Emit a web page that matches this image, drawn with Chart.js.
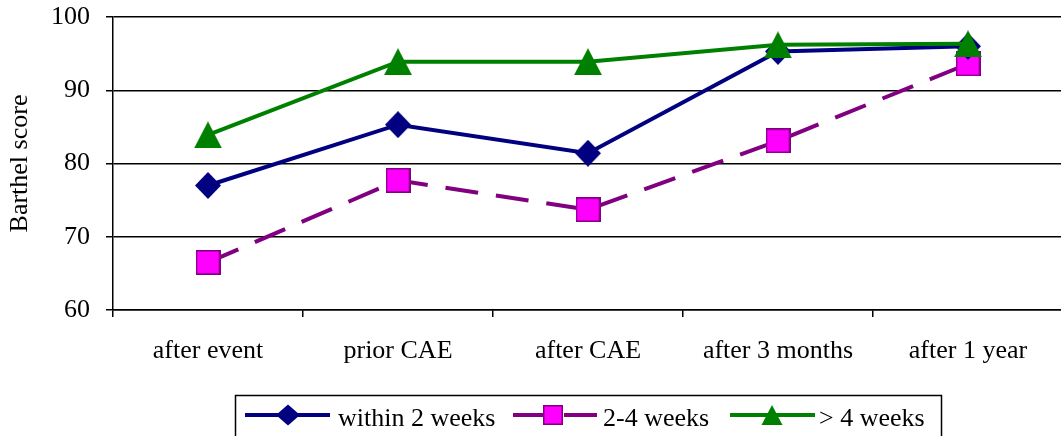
<!DOCTYPE html>
<html><head><meta charset="utf-8">
<script src="https://cdn.jsdelivr.net/npm/chart.js@4.4.0/dist/chart.umd.min.js"></script>
<style>
html,body{margin:0;padding:0;background:#fff;overflow:hidden;}
#wrap{position:relative;width:1080px;height:436px;}
</style></head><body>
<div id="wrap"><canvas id="c" width="1080" height="436"></canvas></div>
<script>
const categories = ['after event', 'prior CAE', 'after CAE', 'after 3 months', 'after 1 year'];
const seriesNames = ['within 2 weeks', '2-4 weeks', '> 4 weeks'];
const within2Weeks = [77.0, 85.3, 81.4, 95.3, 96.0];
const weeks2to4 = [66.5, 77.7, 73.7, 83.1, 93.6];
const over4Weeks = [83.9, 93.9, 93.9, 96.2, 96.35];
const yTicks = [60, 70, 80, 90, 100];
const yTitle = 'Barthel score';

const NAVY = '#000080', PURPLE = '#800080', MAGENTA = '#FF00FF', GREEN = '#008000';
const FONT = 'Liberation Serif, Times New Roman, serif';
const FS = 26;

function triImg(w, h, color) {
  const c = document.createElement('canvas');
  c.width = w; c.height = h;
  const x = c.getContext('2d');
  x.fillStyle = color;
  x.beginPath(); x.moveTo(w / 2, 0); x.lineTo(w, h); x.lineTo(0, h); x.closePath(); x.fill();
  return c;
}
function diamondImg(w, h, color) {
  const c = document.createElement('canvas');
  c.width = w; c.height = h;
  const x = c.getContext('2d');
  x.fillStyle = color;
  x.beginPath(); x.moveTo(w / 2, 0); x.lineTo(w, h / 2); x.lineTo(w / 2, h); x.lineTo(0, h / 2); x.closePath(); x.fill();
  return c;
}
function squareImg(s, fill, stroke) {
  const c = document.createElement('canvas');
  c.width = s; c.height = s;
  const x = c.getContext('2d');
  x.fillStyle = fill; x.strokeStyle = stroke; x.lineWidth = 1.6;
  x.fillRect(0.8, 0.8, s - 1.6, s - 1.6);
  x.strokeRect(0.8, 0.8, s - 1.6, s - 1.6);
  return c;
}

const legendLayout = [
  {x1: 245, x2: 330, mx: 288, tx: 338},
  {x1: 513, x2: 597, mx: 553, tx: 603},
  {x1: 730, x2: 815, mx: 772, tx: 819}
];

const legendPlugin = {
  id: 'boxLegend',
  afterDraw(chart) {
    const ctx = chart.ctx;
    ctx.save();
    ctx.strokeStyle = '#000';
    ctx.lineWidth = 1.5;
    ctx.strokeRect(235.5, 395.5, 706, 60);
    const ly = 415;
    chart.data.datasets.forEach((ds, i) => {
      const L = legendLayout[i];
      ctx.save();
      ctx.strokeStyle = ds.borderColor;
      ctx.lineWidth = ds.borderWidth;
      ctx.setLineDash(ds.borderDash || []);
      ctx.beginPath(); ctx.moveTo(L.x1, ly); ctx.lineTo(L.x2, ly); ctx.stroke();
      ctx.restore();
      ctx.save();
      ctx.fillStyle = ds.markerFill;
      ctx.strokeStyle = ds.borderColor;
      ctx.lineWidth = 1.5;
      ctx.beginPath();
      if (ds.legendMarker === 'diamond') {
        const rx = 12, ry = 10.5;
        ctx.moveTo(L.mx - rx, ly); ctx.lineTo(L.mx, ly - ry); ctx.lineTo(L.mx + rx, ly); ctx.lineTo(L.mx, ly + ry); ctx.closePath();
        ctx.fill();
      } else if (ds.legendMarker === 'square') {
        const s = 18.5;
        ctx.rect(L.mx - s / 2, ly - s / 2, s, s);
        ctx.fill(); ctx.stroke();
      } else {
        const w = 21, h = 20;
        ctx.moveTo(L.mx, ly - h / 2); ctx.lineTo(L.mx + w / 2, ly + h / 2); ctx.lineTo(L.mx - w / 2, ly + h / 2); ctx.closePath();
        ctx.fill();
      }
      ctx.restore();
      ctx.fillStyle = '#000';
      ctx.font = FS + 'px ' + FONT;
      ctx.textAlign = 'left';
      ctx.textBaseline = 'alphabetic';
      ctx.fillText(ds.label, L.tx, 426);
    });
    ctx.restore();
  }
};

Chart.defaults.font.family = FONT;
Chart.defaults.font.size = FS;
Chart.defaults.color = '#000';

new Chart(document.getElementById('c'), {
  type: 'line',
  data: {
    labels: categories,
    datasets: [
      {
        label: seriesNames[0], data: within2Weeks, order: 1,
        borderColor: NAVY, borderWidth: 4, tension: 0,
        pointStyle: diamondImg(26, 27, NAVY), pointRadius: 13,
        markerFill: NAVY, legendMarker: 'diamond'
      },
      {
        label: seriesNames[1], data: weeks2to4, order: 2,
        borderColor: PURPLE, borderWidth: 4, borderDash: [33, 18], tension: 0,
        pointStyle: squareImg(25, MAGENTA, PURPLE), pointRadius: 13,
        markerFill: MAGENTA, legendMarker: 'square'
      },
      {
        label: seriesNames[2], data: over4Weeks, order: 0,
        borderColor: GREEN, borderWidth: 4, tension: 0,
        pointStyle: triImg(28, 27, GREEN), pointRadius: 13,
        markerFill: GREEN, legendMarker: 'triangle'
      }
    ]
  },
  options: {
    responsive: false,
    animation: false,
    events: [],
    layout: {padding: {top: 17, left: 0, right: 11, bottom: 0}},
    plugins: {legend: {display: false}, tooltip: {enabled: false}},
    scales: {
      x: {
        offset: true,
        grid: {offset: true, drawOnChartArea: false, drawTicks: true, tickLength: 7, color: '#000', lineWidth: 1.5},
        border: {display: true, color: '#000', width: 1.5},
        ticks: {padding: 19, font: {size: FS}, maxRotation: 0, autoSkip: false},
        afterFit(s) { s.height = 126; s.paddingLeft = 0; s.paddingRight = 0; }
      },
      y: {
        min: 60, max: 100,
        afterBuildTicks(s) { s.ticks = yTicks.map(v => ({value: v})); },
        grid: {drawTicks: true, tickLength: 7, color: '#000', lineWidth: 1.5},
        border: {display: true, color: '#000', width: 1.5},
        ticks: {padding: 16, font: {size: FS}},
        title: {display: true, text: yTitle, font: {size: FS}, padding: {top: 5, bottom: 0}},
        afterFit(s) { s.width = 113; s.paddingTop = 0; s.paddingBottom = 0; }
      }
    }
  },
  plugins: [legendPlugin]
});
</script>
</body></html>
